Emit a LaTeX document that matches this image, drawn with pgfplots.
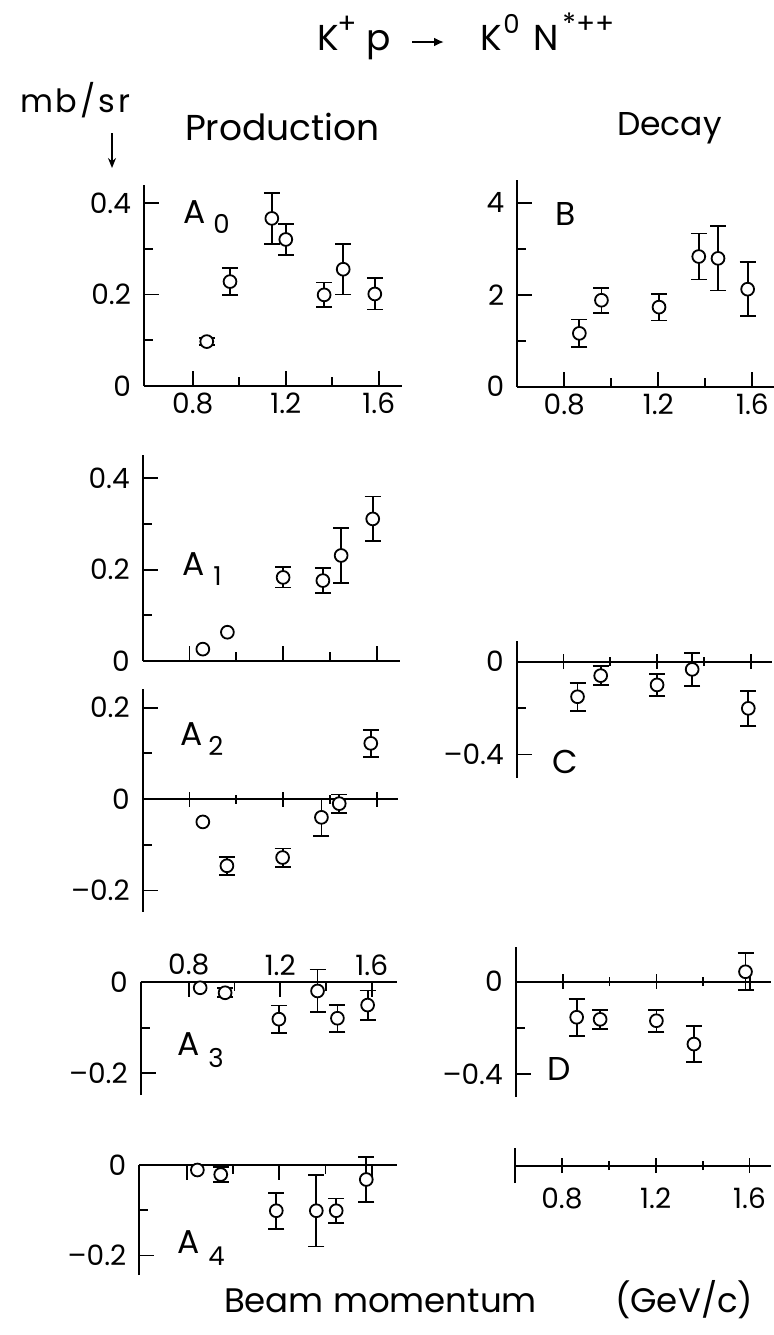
\documentclass[border=0pt]{standalone}
\usepackage{fontspec}
\setmainfont{Poppins}
\usepackage{pgfplots}
\pgfplotsset{compat=1.18}
\usetikzlibrary{arrows.meta}

% 1 px of the reference = 0.5pt
\pgfplotsset{
  panel/.style={
    scale only axis, anchor=south west, clip=false,
    axis line style={line width=1pt},
    tick style={black, line width=0.9pt},
    major tick length=7.5pt, minor tick length=4.5pt,
    tick align=inside,
    xtick={0.8,1.2,1.6}, minor xtick={1.0,1.4},
    tick label style={font=\fontsize{14}{16}\selectfont},
    /pgf/number format/assume math mode=true,
    hide obscured x ticks=false, hide obscured y ticks=false,
    axis y line*=left,
    yticklabel style={xshift=-3pt},
  },
  pt/.style={only marks, mark=*, mark size=3.2pt,
    mark options={fill=white, draw=black, line width=0.9pt}},
  eb/.style={pt, error bars/.cd, y dir=both, y explicit,
    error bar style={line width=0.9pt},
    error mark options={rotate=90, line width=0.9pt, mark size=4pt}},
}
\newcommand{\lbl}{\fontsize{16.5}{18}\selectfont}
\newcommand{\sub}{\fontsize{13}{14}\selectfont}

\begin{document}
\begin{tikzpicture}
\useasboundingbox (0,0) rectangle (386.5pt,-667.5pt);

% ---- A0
\begin{axis}[panel, at={(72pt,-193pt)}, width=129pt, height=100.75pt,
  xmin=0.59, xmax=1.70, ymin=0, ymax=0.44, axis x line*=bottom,
  ytick={0,0.2,0.4}, minor ytick={0.1,0.3}]
\addplot[eb] coordinates {
  (0.86,0.097) +- (0,0.008)
  (0.96,0.228) +- (0,0.030)
  (1.14,0.366) +- (0,0.056)
  (1.20,0.320) +- (0,0.034)
  (1.365,0.199) +- (0,0.027)
  (1.447,0.255) +- (0,0.055)
  (1.583,0.201) +- (0,0.034)};
\end{axis}

% ---- A1
\begin{axis}[panel, at={(71.35pt,-330.5pt)}, width=128.7pt, height=102.8pt,
  xmin=0.6, xmax=1.70, ymin=0, ymax=0.45, axis x line*=bottom,
  xticklabels={}, ytick={0,0.2,0.4}, minor ytick={0.1,0.3}]
\addplot[pt] coordinates {(0.857,0.026) (0.962,0.063)};
\addplot[eb] coordinates {
  (1.20,0.183) +- (0,0.022)
  (1.37,0.176) +- (0,0.027)
  (1.448,0.231) +- (0,0.060)
  (1.583,0.311) +- (0,0.049)};
\end{axis}

% ---- A2
\begin{axis}[panel, at={(71.35pt,-455.95pt)}, width=127.5pt, height=111.7pt,
  xmin=0.6, xmax=1.69, ymin=-0.247, ymax=0.242, axis x line*=middle,
  xtick align=center, xticklabels={},
  ytick={-0.2,0,0.2}, yticklabels={--0.2,0,0.2}, minor ytick={-0.1,0.1}]
\addplot[pt] coordinates {(0.857,-0.050)};
\addplot[eb] coordinates {
  (0.96,-0.146) +- (0,0.02)
  (1.198,-0.128) +- (0,0.02)
  (1.364,-0.040) +- (0,0.04)
  (1.44,-0.010) +- (0,0.02)
  (1.575,0.122) +- (0,0.03)};
\end{axis}

% ---- A3
\begin{axis}[panel, at={(70.35pt,-547.55pt)}, width=128.1pt, height=56.4pt,
  xmin=0.59, xmax=1.71, ymin=-0.248, ymax=0, axis x line*=top,
  ytick={-0.2,0}, yticklabels={--0.2,0}, minor ytick={-0.1}]
\addplot[pt] coordinates {(0.85,-0.012)};
\addplot[eb] coordinates {
  (0.959,-0.023) +- (0,0.01)
  (1.194,-0.081) +- (0,0.03)
  (1.363,-0.019) +- (0,0.047)
  (1.45,-0.079) +- (0,0.03)
  (1.582,-0.050) +- (0,0.032)};
\end{axis}

% ---- A4
\begin{axis}[panel, at={(69.65pt,-637.5pt)}, width=129pt, height=55pt,
  xmin=0.595, xmax=1.71, ymin=-0.243, ymax=0, axis x line*=top,
  xticklabels={}, ytick={-0.2,0}, yticklabels={--0.2,0}, minor ytick={-0.1}]
\addplot[pt] coordinates {(0.846,-0.011)};
\addplot[eb] coordinates {
  (0.947,-0.021) +- (0,0.017)
  (1.187,-0.101) +- (0,0.04)
  (1.36,-0.101) +- (0,0.079)
  (1.446,-0.101) +- (0,0.027)
  (1.576,-0.032) +- (0,0.05)};
\end{axis}

% ---- B
\begin{axis}[panel, at={(258.65pt,-193.35pt)}, width=128.1pt, height=103.5pt,
  xmin=0.6, xmax=1.69, ymin=0, ymax=4.5, axis x line*=bottom,
  ytick={0,2,4}, minor ytick={1,3}]
\addplot[eb] coordinates {
  (0.864,1.16) +- (0,0.30)
  (0.958,1.88) +- (0,0.27)
  (1.203,1.73) +- (0,0.29)
  (1.372,2.83) +- (0,0.50)
  (1.454,2.79) +- (0,0.70)
  (1.58,2.12) +- (0,0.59)};
\end{axis}

% ---- C
\begin{axis}[panel, at={(258.35pt,-388.85pt)}, width=127.5pt, height=68.44pt,
  xmin=0.6, xmax=1.69, ymin=-0.5, ymax=0.09, axis x line*=middle,
  xtick align=center, xticklabels={},
  ytick={-0.4,0}, yticklabels={--0.4,0}, minor ytick={-0.2}]
\addplot[eb] coordinates {
  (0.86,-0.151) +- (0,0.06)
  (0.959,-0.060) +- (0,0.04)
  (1.20,-0.100) +- (0,0.047)
  (1.35,-0.033) +- (0,0.07)
  (1.59,-0.201) +- (0,0.075)};
\end{axis}

% ---- D
\begin{axis}[panel, at={(257.85pt,-548.6pt)}, width=127.8pt, height=75.1pt,
  xmin=0.6, xmax=1.69, ymin=-0.5, ymax=0.15, axis x line*=middle,
  xtick align=center, xticklabels={},
  ytick={-0.4,0}, yticklabels={--0.4,0}, minor ytick={-0.2}]
\addplot[eb] coordinates {
  (0.86,-0.154) +- (0,0.08)
  (0.96,-0.163) +- (0,0.042)
  (1.20,-0.169) +- (0,0.048)
  (1.36,-0.270) +- (0,0.077)
  (1.58,0.043) +- (0,0.08)};
\end{axis}

% ---- lone momentum axis
\begin{axis}[panel, at={(257.5pt,-591.5pt)}, width=127.8pt, height=17.5pt,
  xmin=0.6, xmax=1.69, ymin=-1, ymax=1, axis x line*=middle,
  xtick align=center, ytick=\empty,
  xticklabel style={yshift=-4pt}]
\end{axis}

% ---- title: K+p -> K0 N*++
\begin{scope}[every node/.style={anchor=base west, inner sep=0pt}]
\node[font=\fontsize{18}{20}\selectfont] at (158.5pt,-25pt) {K};
\node[font=\fontsize{14}{16}\selectfont] at (168.5pt,-16.5pt) {+};
\node[font=\fontsize{18}{20}\selectfont] at (183pt,-25pt) {p};
\node[font=\fontsize{18}{20}\selectfont] at (240pt,-25pt) {K};
\node[font=\fontsize{13}{16}\selectfont] at (251.5pt,-16.5pt) {0};
\node[font=\fontsize{18}{20}\selectfont] at (266.5pt,-25pt) {N};
\node[font=\fontsize{14}{16}\selectfont] at (281pt,-16.5pt) {*++};
\end{scope}
\draw[line width=1pt, -{Latex[length=5pt,width=4.5pt]}] (206pt,-21pt) -- (222pt,-21pt);

% ---- other texts
\node[anchor=base west, font=\fontsize{16}{18}\selectfont\addfontfeatures{LetterSpace=9}] at (6.5pt,-56pt) {mb/sr};
\draw[line width=0.8pt, -{Stealth[length=5pt,width=4pt,open]}] (56pt,-66.5pt) -- (56pt,-84pt);
\node[anchor=base west, font=\fontsize{18}{20}\selectfont] at (89pt,-70pt) {Production};
\node[anchor=base west, font=\fontsize{16.5}{20}\selectfont] at (305pt,-67.5pt) {Decay};
\node[anchor=base west, font=\fontsize{17}{19}\selectfont] at (108.5pt,-656pt) {Beam momentum};
\node[anchor=base west, font=\fontsize{17}{19}\selectfont] at (304pt,-656pt) {(GeV/c)};

% ---- panel labels
\begin{scope}[every node/.style={anchor=base west, inner sep=0pt}]
\node at (91.5pt,-111.5pt) {\lbl A};
\node at (106.5pt,-116.5pt) {\sub 0};
\node at (91pt,-287.5pt) {\lbl A};
\node at (106.5pt,-292.5pt) {\sub 1};
\node at (90pt,-372.5pt) {\lbl A};
\node at (104pt,-377.5pt) {\sub 2};
\node at (88.5pt,-527.5pt) {\lbl A};
\node at (104pt,-533.5pt) {\sub 3};
\node at (88.5pt,-626.5pt) {\lbl A};
\node at (104pt,-632.5pt) {\sub 4};
\node at (277.5pt,-112.5pt) {\lbl B};
\node at (276pt,-386.5pt) {\lbl C};
\node at (273.5pt,-540pt) {\lbl D};
\end{scope}
\end{tikzpicture}
\end{document}
